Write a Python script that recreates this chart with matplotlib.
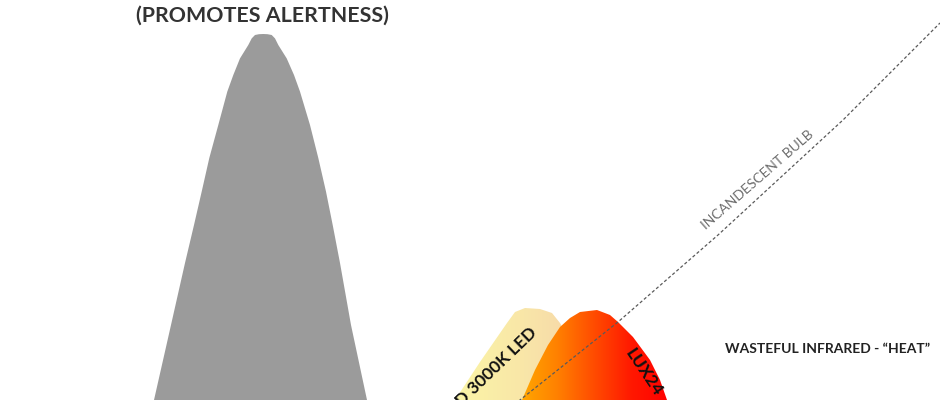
import numpy as np
import matplotlib
matplotlib.use("Agg")
import matplotlib.pyplot as plt
from matplotlib.patches import Polygon
from matplotlib.colors import LinearSegmentedColormap

plt.rcParams['font.family'] = ['Lato', 'DejaVu Sans']

# Melanopic sensitivity curve (wavelength nm, relative intensity)
melanopic_wl = [456.5, 457, 465.5, 472.5, 477, 480.85, 484.65, 489.15, 493.65, 496.65,
                500, 504.15, 505.85, 507.5, 509.5, 511.65, 513.75, 515.85, 517.5, 519.15,
                523.35, 527, 530, 535, 539.15, 543, 546.35, 550, 555.5, 563.5, 565]
melanopic_int = [-4, 0, 18.75, 34.25, 43.75, 52.1, 60.5, 68.75, 77.1, 81.25,
                 85.4, 88.75, 90.4, 91.25, 91.45, 91.5, 91.45, 91.25, 90.4, 88.75,
                 85.4, 81.25, 77.1, 68.75, 60.5, 52.1, 43.75, 34.25, 18.75, 0, -4]

# Standard 3000K LED spectrum (outline)
led_wl = [606, 607.5, 620, 633.5, 637.5, 642.5, 650, 656, 660, 668, 676, 678]
led_int = [-4, 0, 9.5, 19.25, 22, 23, 22.75, 21.75, 19.25, 12, 0, -4]

# LUX24 spectrum (outline)
lux_wl = [639, 641, 647.5, 654, 660, 665, 670, 678.5, 685, 689, 696.5, 705, 710, 713.5, 715]
lux_int = [-4, 0, 7.5, 13.75, 18.25, 20.5, 22, 22.5, 21.25, 19.5, 15.75, 10, 5, 0, -4]

# Incandescent bulb curve
inc_wl = [632.5, 640, 689, 739, 801.5, 850]
inc_int = [-3, 0, 19.5, 41.25, 70, 94.25]

fig = plt.figure(figsize=(9.4, 4), dpi=100)
ax = fig.add_axes([0, 0, 1, 1])
ax.axis('off')

ax.fill(melanopic_wl, melanopic_int, color='#9b9b9b', lw=0, zorder=1)


def gradient_fill(xs, ys, colors, z):
    poly = Polygon(np.column_stack([xs, ys]), closed=True, fc='none', ec='none')
    ax.add_patch(poly)
    cmap = LinearSegmentedColormap.from_list('g', colors)
    grad = np.linspace(0, 1, 256).reshape(1, -1)
    im = ax.imshow(grad, cmap=cmap, aspect='auto', zorder=z,
                   extent=[min(xs), max(xs), min(ys), max(ys)], origin='lower')
    im.set_clip_path(poly)


gradient_fill(led_wl, led_int, ['#fbf6a6', '#f9e6a8', '#f5d2aa'], 2)
gradient_fill(lux_wl, lux_int, ['#ffaa00', '#ff8200', '#ff4c00', '#ff1800', '#ff0000'], 3)

ax.plot(inc_wl, inc_int, color='#5a5a5a', lw=0.9, ls=(0, (2.5, 1.8)), zorder=4)

ax.text(511, 96.2, '(PROMOTES ALERTNESS)', ha='center', va='center',
        fontsize=15.4, fontweight='bold', color='#333333')
ax.text(742.5, 12.75, 'WASTEFUL INFRARED - \u201cHEAT\u201d', ha='left', va='center',
        fontsize=10, fontweight='bold', color='#222222')
ax.text(759, 55, 'INCANDESCENT BULB', ha='center', va='center', rotation=41,
        rotation_mode='anchor', fontsize=10, color='#6e6e6e')
ax.text(647, 17.5, 'STANDARD 3000K LED', ha='right', va='center', rotation=44,
        rotation_mode='anchor', fontsize=12.5, fontweight='bold', color='#111111', zorder=5)
ax.text(694.5, 12.5, 'LUX24', ha='left', va='center', rotation=-56,
        rotation_mode='anchor', fontsize=12.5, fontweight='bold', color='#111111', zorder=5)

ax.set_xlim(380, 850)
ax.set_ylim(0, 100)

fig.savefig('out.png', dpi=100, facecolor='white')
